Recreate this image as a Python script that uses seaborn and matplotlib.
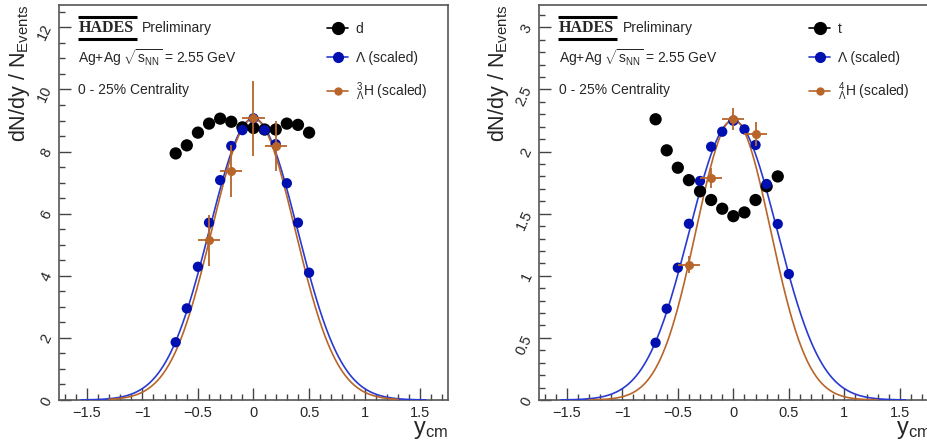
import numpy as np
import pandas as pd
import matplotlib
matplotlib.use('Agg')
import matplotlib.pyplot as plt
from matplotlib.lines import Line2D
from matplotlib.ticker import MultipleLocator, FuncFormatter
import seaborn as sns

# ---- data ----
# left panel: deuterons, Lambda and hypertriton
y_d = [-0.7, -0.6, -0.5, -0.4, -0.3, -0.2, -0.1, 0.0, 0.1, 0.2, 0.3, 0.4, 0.5]
dndy_d = [7.94, 8.20, 8.61, 8.90, 9.06, 8.96, 8.78, 8.76, 8.71, 8.71, 8.90, 8.86, 8.61]

y_lam = [-0.7, -0.6, -0.5, -0.4, -0.3, -0.2, -0.1, 0.0, 0.1, 0.2, 0.3, 0.4, 0.5]
dndy_lam_left = [1.86, 2.95, 4.29, 5.71, 7.08, 8.18, 8.69, 9.07, 8.69, 8.24, 6.98, 5.71, 4.10]

y_h3 = [-0.4, -0.2, 0.0, 0.2]
dndy_h3 = [5.15, 7.38, 9.07, 8.18]
err_h3 = [0.82, 0.83, 1.20, 0.82]

# right panel: tritons, Lambda and hyperhydrogen-4
y_t = [-0.7, -0.6, -0.5, -0.4, -0.3, -0.2, -0.1, 0.0, 0.1, 0.2, 0.3, 0.4]
dndy_t = [2.26, 2.01, 1.87, 1.77, 1.68, 1.61, 1.54, 1.48, 1.51, 1.61, 1.72, 1.80]

dndy_lam_right = [0.461, 0.735, 1.065, 1.419, 1.763, 2.039, 2.160, 2.248, 2.179, 2.053, 1.739, 1.417, 1.014]

y_h4 = [-0.4, -0.2, 0.0, 0.2]
dndy_h4 = [1.09, 1.79, 2.26, 2.14]
err_h4 = [0.07, 0.08, 0.09, 0.095]

xerr_bin = 0.1

# gaussian fit parameters (amplitude, sigma)
fit_lam_left = (9.07, 0.395)
fit_h3 = (9.07, 0.3735)
fit_lam_right = (2.25, 0.395)
fit_h4 = (2.26, 0.335)

BLUE_PT = '#0010b0'
BLUE_LN = '#2a3ad0'
ORANGE = '#b8652a'

sns.set_style('ticks')
plt.rcParams['font.family'] = ['Liberation Sans', 'DejaVu Sans']
plt.rcParams['mathtext.fontset'] = 'custom'
plt.rcParams['mathtext.rm'] = 'Liberation Sans'
plt.rcParams['mathtext.it'] = 'Liberation Sans:italic'
plt.rcParams['mathtext.bf'] = 'Liberation Sans:bold'


def gauss_curve(x, pars):
    a, s = pars
    return a * np.exp(-0.5 * (x / s) ** 2)


def root_fmt(v, pos):
    return f'{v:g}'.replace('-', '\u2212')


def draw_panel(ax, y_ref, dndy_ref, ref_label, dndy_lam, fit_lam,
               y_hyp, dndy_hyp, err_hyp, fit_hyp, hyp_label,
               ymax, ymajor, yminor):
    xs_lam = np.linspace(-1.55, 1.55, 400)
    xs_hyp = np.linspace(-1.3, 1.3, 400)
    sns.lineplot(x=xs_lam, y=gauss_curve(xs_lam, fit_lam), ax=ax,
                 color=BLUE_LN, lw=1.2, zorder=3)
    sns.lineplot(x=xs_hyp, y=gauss_curve(xs_hyp, fit_hyp), ax=ax,
                 color=ORANGE, lw=1.2, zorder=3)

    ref = pd.DataFrame({'y': y_ref, 'dndy': dndy_ref})
    sns.scatterplot(data=ref, x='y', y='dndy', ax=ax, color='black',
                    s=78, edgecolor='none', zorder=4)
    lam = pd.DataFrame({'y': y_lam, 'dndy': dndy_lam})
    sns.scatterplot(data=lam, x='y', y='dndy', ax=ax, color=BLUE_PT,
                    s=55, edgecolor='none', zorder=5)

    ax.errorbar(y_hyp, dndy_hyp, yerr=err_hyp, xerr=xerr_bin, fmt='o',
                color=ORANGE, ms=5.5, elinewidth=1.3, capsize=0, zorder=6)

    ax.set_xlim(-1.75, 1.75)
    ax.set_ylim(0, ymax)
    ax.xaxis.set_major_locator(MultipleLocator(0.5))
    ax.xaxis.set_minor_locator(MultipleLocator(0.1))
    ax.yaxis.set_major_locator(MultipleLocator(ymajor))
    ax.yaxis.set_minor_locator(MultipleLocator(yminor))
    ax.xaxis.set_major_formatter(FuncFormatter(root_fmt))
    ax.yaxis.set_major_formatter(FuncFormatter(root_fmt))
    ax.tick_params(which='both', direction='in', color='#444444',
                   top=False, right=False, labelsize=10.5)
    ax.tick_params(which='major', length=8.5, width=1.0)
    ax.tick_params(which='minor', length=4.5, width=1.0)
    ax.tick_params(axis='y', labelrotation=65, pad=3)
    ax.tick_params(axis='x', pad=4)
    for sp in ax.spines.values():
        sp.set_color('#555555')
        sp.set_linewidth(1.2)

    ax.set_ylabel(r'dN/dy / N$_{\mathregular{Events}}$', fontsize=15.5,
                  loc='top', labelpad=2)
    ax.set_xlabel(r'y$_{\mathregular{cm}}$', fontsize=17, loc='right',
                  labelpad=-0.5)

    # HADES logo + labels
    tr = ax.transAxes
    ax.text(0.05, 0.942, 'HADES', transform=tr, fontsize=11.5,
            fontweight='bold', family='Liberation Serif', va='center')
    ax.plot([0.049, 0.2], [0.969, 0.969], color='black', lw=2.2,
            transform=tr, solid_capstyle='butt')
    ax.plot([0.049, 0.2], [0.915, 0.915], color='black', lw=2.2,
            transform=tr, solid_capstyle='butt')
    ax.text(0.214, 0.943, 'Preliminary', transform=tr, fontsize=10,
            va='center')
    ax.text(0.05, 0.866, r'Ag+Ag $\sqrt{\mathregular{s}_{\mathregular{NN}}}$ = 2.55 GeV',
            transform=tr, fontsize=10, va='center')
    ax.text(0.05, 0.785, '0 - 25% Centrality', transform=tr, fontsize=10,
            va='center')

    handles = [
        Line2D([], [], color='black', marker='o', ms=8.5, lw=1.2),
        Line2D([], [], color=BLUE_LN, marker='o', mfc=BLUE_PT, mec=BLUE_PT,
               ms=7, lw=1.2),
        Line2D([], [], color=ORANGE, marker='o', ms=5, lw=1.2),
    ]
    labels = [ref_label, 'Λ (scaled)', hyp_label]
    ax.legend(handles, labels, loc='upper left', bbox_to_anchor=(0.675, 0.972),
              frameon=False, fontsize=10, handlelength=1.5, handletextpad=0.55,
              labelspacing=1.12, borderaxespad=0)


fig = plt.figure(figsize=(9.28, 4.45), dpi=100)
ax1 = fig.add_axes([59 / 928, 45 / 445, 389 / 928, 395 / 445])
ax2 = fig.add_axes([539 / 928, 45 / 445, 392 / 928, 395 / 445])

draw_panel(ax1, y_d, dndy_d, 'd', dndy_lam_left, fit_lam_left,
           y_h3, dndy_h3, err_h3, fit_h3, r'${}^{3}_{\Lambda}$H (scaled)',
           12.72, 2, 0.5)
draw_panel(ax2, y_t, dndy_t, 't', dndy_lam_right, fit_lam_right,
           y_h4, dndy_h4, err_h4, fit_h4, r'${}^{4}_{\Lambda}$H (scaled)',
           3.18, 0.5, 0.1)
ax2.set_xlim(-1.75, 1.78)

fig.savefig('out.png', dpi=100)
